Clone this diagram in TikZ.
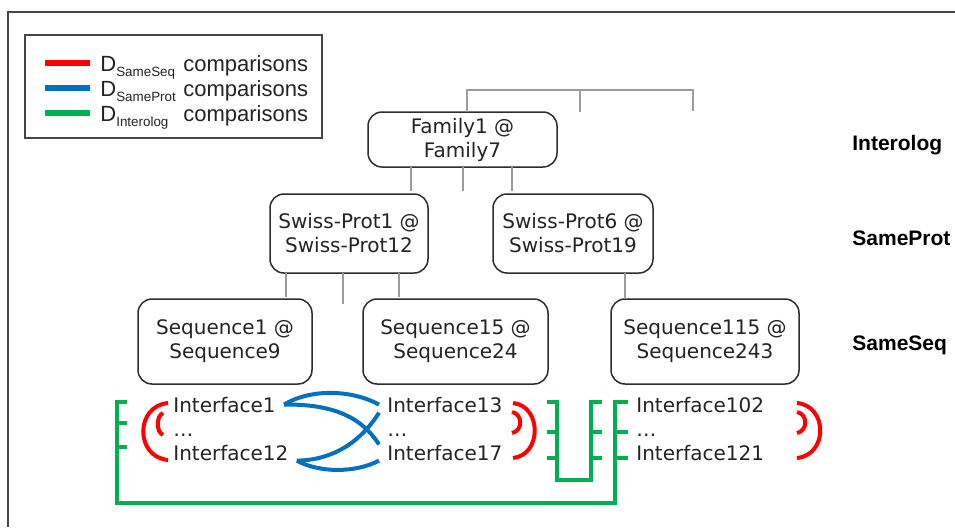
\documentclass[tikz,border=0pt]{standalone}
\usepackage{fontspec}
\setmainfont{DejaVu Sans}
\newfontfamily\arialf{Liberation Sans}
\usetikzlibrary{calc}
\definecolor{cred}{RGB}{255,0,0}
\definecolor{cblue}{RGB}{0,112,192}
\definecolor{cgreen}{RGB}{0,176,80}
\definecolor{cgray}{RGB}{155,155,155}
\definecolor{cbox}{RGB}{45,45,45}
\definecolor{ctxt}{RGB}{35,35,35}
\definecolor{cframe}{RGB}{70,70,70}
\newcommand\lsub[1]{\raisebox{-2.6pt}{\fontsize{6.7}{7}\selectfont #1}}
\begin{document}
\begin{tikzpicture}[x=0.5pt,y=-0.5pt,
  box/.style={draw=cbox, line width=0.75pt, rounded corners=7pt, align=center, inner sep=0pt,
    font=\fontsize{10}{12}\selectfont, text=ctxt},
  iface/.style={anchor=base west, inner xsep=4pt, inner ysep=0pt, font=\fontsize{10}{12}\selectfont, text=ctxt},
  stub/.style={draw=cgray, line width=0.75pt},
  legline/.style={line width=2.6pt},
  legtxt/.style={anchor=base west, inner sep=0pt, font=\arialf\fontsize{11}{13}\selectfont, text=ctxt},
  lvl/.style={anchor=base west, inner sep=0pt, font=\arialf\bfseries\fontsize{10.5}{12}\selectfont, text=black},
  redarc/.style={draw=cred, line width=2pt},
  bluel/.style={draw=cblue, line width=2pt},
  greenl/.style={draw=cgreen, line width=2pt, line join=miter}]
\useasboundingbox (0,0) rectangle (955,527);

% outer frame
\draw[cframe, line width=0.75pt] (8,527) -- (8,12) -- (955,12);

% legend
\draw[draw=cframe, line width=0.75pt] (25,35) rectangle (322,138);
\draw[legline, cred] (45,63) -- (90,63);
\draw[legline, cblue] (45,88) -- (90,88);
\draw[legline, cgreen] (45,113) -- (90,113);
\node[legtxt] (lg1) at (100,71) {\makebox[41.5pt][l]{D\lsub{SameSeq}}comparisons};
\node[legtxt] (lg2) at (100,96) {\makebox[41.5pt][l]{D\lsub{SameProt}}comparisons};
\node[legtxt] (lg3) at (100,121) {\makebox[41.5pt][l]{D\lsub{Interolog}}comparisons};

% level labels
\node[lvl] (lv1) at (852,150) {Interolog};
\node[lvl] (lv2) at (852,245) {SameProt};
\node[lvl] (lv3) at (852,350) {SameSeq};

% boxes
\node[box, minimum width=94.5pt, minimum height=27.5pt] (fam) at (462.5,139.5) {Family1 @\\Family7};
\node[box, minimum width=79pt, minimum height=39.5pt] (sp1) at (349,233.5) {Swiss-Prot1 @\\Swiss-Prot12};
\node[box, minimum width=80pt, minimum height=39.5pt] (sp6) at (573,233.5) {Swiss-Prot6 @\\Swiss-Prot19};
\node[box, minimum width=87pt, minimum height=42.5pt] (sq1) at (225,341.5) {Sequence1 @\\Sequence9};
\node[box, minimum width=92.5pt, minimum height=42.5pt] (sq15) at (455.5,341.5) {Sequence15 @\\Sequence24};
\node[box, minimum width=94pt, minimum height=42.5pt] (sq115) at (705,341.5) {Sequence115 @\\Sequence243};

% gray stubs
\draw[stub] (467,112) -- (467,90) -- (693,90) -- (693,111);
\draw[stub] (580,90) -- (580,112);
\draw[stub] (411,167) -- (411,191);
\draw[stub] (463,167) -- (463,191);
\draw[stub] (512,167) -- (512,191);
\draw[stub] (286,273) -- (286,297);
\draw[stub] (343,273) -- (343,304);
\draw[stub] (399,273) -- (399,297);
\draw[stub] (625,273) -- (625,299);

% interfaces
\node[iface] (i1) at (165,412) {Interface1};
\node[iface] (d1) at (165,436) {…};
\node[iface] (i12) at (165,460) {Interface12};
\node[iface] (i13) at (379,412) {Interface13};
\node[iface] (d2) at (379,436) {…};
\node[iface] (i17) at (379,460) {Interface17};
\node[iface] (i102) at (628,412) {Interface102};
\node[iface] (d3) at (628,436) {…};
\node[iface] (i121) at (628,460) {Interface121};

% blue comparisons
\draw[bluel] (i1.east) .. controls (310,389) and (350,389) .. (i13.west);
\draw[bluel] (i1.east) .. controls (335,404) and (362,418) .. (i17.north west);
\draw[bluel] (i12.south east) .. controls (335,460) and (362,440) .. (i13.south west);
\draw[bluel] (i12.south east) .. controls (320,473) and (355,473) .. (i17.south west);

% red arcs
\draw[redarc] (168,403) .. controls (135,406) and (135,457) .. (168,460);
\draw[redarc] (163,413) .. controls (156,416) and (156,432) .. (163,435);
\draw[redarc] (513,403) .. controls (542,406) and (542,455) .. (513,458);
\draw[redarc] (512,412) .. controls (523,414) and (523,431) .. (512,433);
\draw[redarc] (797,403) .. controls (828,406) and (828,455) .. (797,458);
\draw[redarc] (797,412) .. controls (808,414) and (808,431) .. (797,433);

% green interolog brackets
\draw[greenl] (127,402) -- (117,402) -- (117,503) -- (615,503) -- (615,402) -- (628,402);
\draw[greenl] (117,423) -- (127,423);
\draw[greenl] (117,447) -- (127,447);
\draw[greenl] (615,432) -- (628,432);
\draw[greenl] (615,458) -- (628,458);
\draw[greenl] (547,402) -- (557,402) -- (557,480) -- (591,480) -- (591,402) -- (602,402);
\draw[greenl] (547,432) -- (557,432);
\draw[greenl] (547,458) -- (557,458);
\draw[greenl] (591,432) -- (602,432);
\draw[greenl] (591,458) -- (602,458);
\end{tikzpicture}
\end{document}
